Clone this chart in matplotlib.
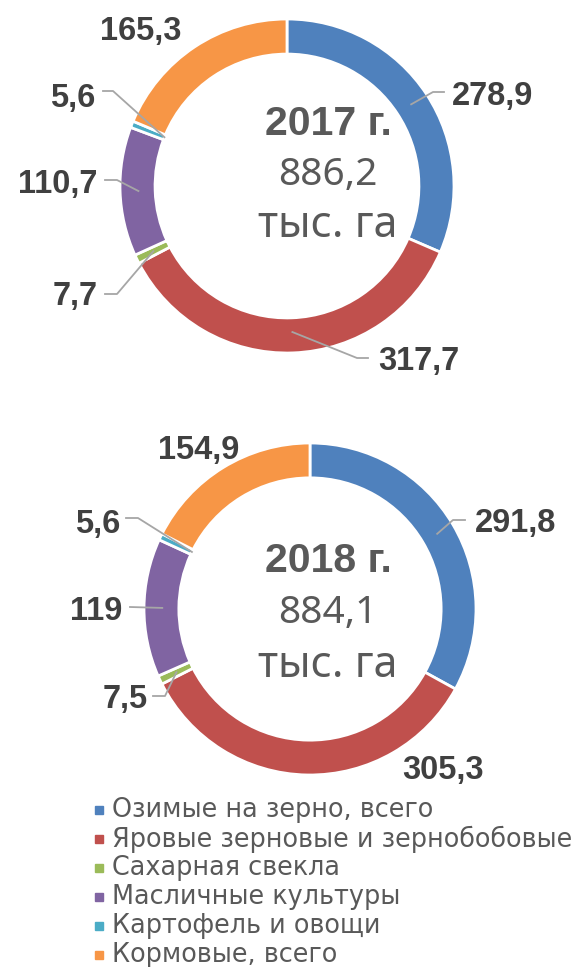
import numpy as np
import matplotlib.pyplot as plt

categories = ["Озимые на зерно, всего", "Яровые зерновые и зернобобовые",
              "Сахарная свекла", "Масличные культуры", "Картофель и овощи",
              "Кормовые, всего"]
values_2017 = [278.9, 317.7, 7.7, 110.7, 5.6, 165.3]
values_2018 = [291.8, 305.3, 7.5, 119, 5.6, 154.9]
labels_2017 = ["278,9", "317,7", "7,7", "110,7", "5,6", "165,3"]
labels_2018 = ["291,8", "305,3", "7,5", "119", "5,6", "154,9"]
colors = ["#4F81BD", "#C0504D", "#9BBB59", "#8064A2", "#4BACC6", "#F79646"]

W, H = 575, 967
fig = plt.figure(figsize=(W / 100, H / 100), dpi=100)
ax = fig.add_axes([0, 0, 1, 1])
ax.set_xlim(0, W)
ax.set_ylim(H, 0)
ax.set_aspect("equal")
ax.axis("off")

txt_dark = "#404040"
txt_grey = "#595959"
line_col = "#A6A6A6"
fam = ["Noto Sans", "DejaVu Sans"]
fam_bold = ["Liberation Sans", "DejaVu Sans"]


def donut(center, radius, values, labels, label_pos, leaders, year, total, text_x, text_y):
    # y axis is inverted: startangle=-90 + counterclock=True gives top start, clockwise on screen
    wedges, _ = ax.pie(values, colors=colors, startangle=-90, counterclock=True,
                       center=center, radius=radius, frame=True,
                       wedgeprops=dict(width=radius * 0.21, edgecolor="white", linewidth=2))
    for w, lab, pos, lead in zip(wedges, labels, label_pos, leaders):
        if lead is not None:
            rf, pts = lead
            ang = np.deg2rad((w.theta1 + w.theta2) / 2)
            px = center[0] + rf * radius * np.cos(ang)
            py = center[1] + rf * radius * np.sin(ang)
            xs = [px] + [p[0] for p in pts]
            ys = [py] + [p[1] for p in pts]
            ax.plot(xs, ys, color=line_col, lw=1.3, zorder=3)
        ax.text(pos[0], pos[1], lab, fontsize=23.5, fontweight="bold", color=txt_dark,
                ha="left", va="baseline", family=fam_bold)
    ax.text(text_x, text_y[0], year, fontsize=29.5, fontweight="bold",
            color=txt_grey, ha="center", va="baseline", family=fam_bold)
    ax.text(text_x, text_y[1], total, fontsize=28, color=txt_grey,
            ha="center", va="baseline", family=fam)
    ax.text(text_x, text_y[2], "тыс. га", fontsize=31, color=txt_grey,
            ha="center", va="baseline", family=fam)


# label positions (left x, baseline y) and leader lines (radius factor, points after start)
pos17 = [(452, 105), (378, 370), (53, 305), (18, 193), (50, 107), (100, 40)]
lead17 = [(0.89, [(433, 92), (444, 92)]),
          (0.875, [(357, 358), (368, 358)]),
          (0.89, [(117, 294), (105, 294)]),
          (0.89, [(117, 180), (105, 180)]),
          (0.79, [(113, 91), (103, 91)]),
          None]
donut((287, 186), 167, values_2017, labels_2017, pos17, lead17,
      "2017 г.", "886,2", 328, (135, 185, 237))

pos18 = [(475, 532), (402, 779), (103, 708), (70, 620), (75, 533), (158, 459)]
lead18 = [(0.89, [(453, 520), (465, 520)]),
          None,
          (0.89, [(165, 696), (153, 696)]),
          (0.89, [(130, 607)]),
          (0.79, [(138, 518), (126, 518)]),
          None]
donut((310, 609), 166, values_2018, labels_2018, pos18, lead18,
      "2018 г.", "884,1", 328, (572, 623, 677))

# legend
for i, (cat, c) in enumerate(zip(categories, colors)):
    y = 810 + i * 29
    ax.add_patch(plt.Rectangle((95, y - 4), 8, 8, color=c))
    ax.text(112, y, cat, fontsize=18.4, color=txt_grey, ha="left", va="center")

fig.savefig("out.png", dpi=100)
